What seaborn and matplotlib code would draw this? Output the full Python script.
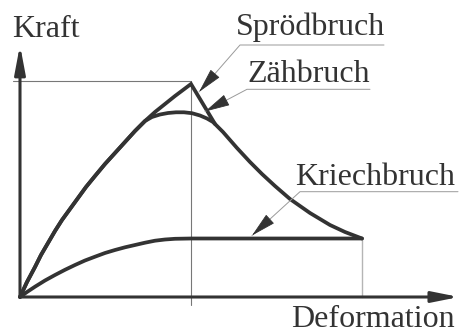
import matplotlib
matplotlib.use("Agg")
import matplotlib.pyplot as plt
import seaborn as sns
import pandas as pd
import numpy as np

# ---- data (arbitrary units: deformation, force) ----
rise_x = [0, 7, 15, 21, 28, 35, 42, 50, 58, 66, 75, 85, 95, 105, 115, 125]
rise_y = [0, 15, 30, 42, 54, 66, 77, 88, 99, 110, 121, 133, 144, 155, 166, 176]

spröd_x = rise_x + [135, 145, 155, 163, 171, 195]
spröd_y = rise_y + [185, 193, 201, 207, 213, 173]

zäh_x = rise_x + [132, 140, 148, 156, 164, 172, 180, 187, 193, 203, 217, 230, 242,
                  255, 270, 290, 310, 325, 342]
zäh_y = rise_y + [180, 182.5, 184, 184.7, 184.7, 183.8, 181.5, 178.5, 175, 165, 149,
                  135, 123, 111, 98, 84, 72, 65, 58.5]

kriech_x = [0, 7, 15, 25, 35, 45, 55, 65, 75, 85, 95, 105, 115, 125, 135, 145, 155,
            171, 342]
kriech_y = [0, 5, 10.3, 16.5, 22, 27.2, 32, 36.5, 40.3, 44, 47, 49.7, 52, 54.3, 56.3,
            57.5, 58.2, 58.5, 58.5]

labels = ["Sprödbruch", "Zähbruch", "Kriechbruch"]
x_label = "Deformation"
y_label = "Kraft"

frames = []
for name, xs, ys in zip(labels, [spröd_x, zäh_x, kriech_x], [spröd_y, zäh_y, kriech_y]):
    frames.append(pd.DataFrame({"Deformation": xs, "Kraft": ys, "Bruch": name}))
df = pd.concat(frames, ignore_index=True)

sns.set_style("white")
plt.rcParams["font.family"] = ["Liberation Serif", "DejaVu Serif"]

fig = plt.figure(figsize=(4.63, 3.33), dpi=100)
ax = fig.add_axes([0, 0, 1, 1])
ax.set_xlim(-20, 443)
ax.set_ylim(-36, 297)

dark = "#333333"
sns.lineplot(data=df, x="Deformation", y="Kraft", units="Bruch", estimator=None,
             sort=False, color=dark, lw=2.7, ax=ax, legend=False,
             solid_joinstyle="miter", solid_capstyle="round")

# guide lines
px, py = spröd_x[int(np.argmax(spröd_y))], max(spröd_y)
ax.plot([-7, px], [py + 3, py + 3], color="#777777", lw=0.8, zorder=1)
ax.plot([px, px], [-8, py + 3], color="#777777", lw=0.8, zorder=1)
ax.plot([kriech_x[-1], kriech_x[-1]], [0, kriech_y[-1]], color="#b5b5b5", lw=1.0, zorder=1)

# axes with arrows
ax.annotate("", xy=(439, 0), xytext=(0, 0),
            arrowprops=dict(arrowstyle="-|>,head_length=1.6,head_width=0.32",
                            color=dark, lw=2.2, shrinkA=0, shrinkB=0, mutation_scale=10))
ax.annotate("", xy=(0, 252), xytext=(0, 0),
            arrowprops=dict(arrowstyle="-|>,head_length=1.7,head_width=0.32",
                            color=dark, lw=2.2, shrinkA=0, shrinkB=0, mutation_scale=10))

# leader lines with arrow heads
leaders = [
    ((364, 252), (220, 252), (179, 205)),      # Sprödbruch
    ((350, 207.7), (227, 207.7), (185, 185.5)),  # Zähbruch
    ((438, 105.3), (280, 105.3), (232, 61.5)),   # Kriechbruch
]
for (x0, y0), (x1, y1), (tx, ty) in leaders:
    ax.plot([x0, x1, tx], [y0, y1, ty], color="#9a9a9a", lw=0.7, zorder=2)
    v = np.array([tx - x1, ty - y1], float)
    v /= np.hypot(*v)
    start = (tx - v[0] * 22, ty - v[1] * 22)
    ax.annotate("", xy=(tx, ty), xytext=start,
                arrowprops=dict(arrowstyle="-|>,head_length=1.6,head_width=0.38",
                                color=dark, lw=0.6, shrinkA=0, shrinkB=0, mutation_scale=10))

fs = 23
tc = "#333333"
ax.text(-8, 260, y_label, fontsize=fs, color=tc, ha="left", va="baseline")
ax.text(365, 262, labels[0], fontsize=fs, color=tc, ha="right", va="baseline")
ax.text(350, 215, labels[1], fontsize=fs, color=tc, ha="right", va="baseline")
ax.text(435, 112, labels[2], fontsize=fs, color=tc, ha="right", va="baseline")
ax.text(435, -30, x_label, fontsize=fs, color=tc, ha="right", va="baseline")

ax.set_axis_off()
fig.savefig("out.png", dpi=100)
